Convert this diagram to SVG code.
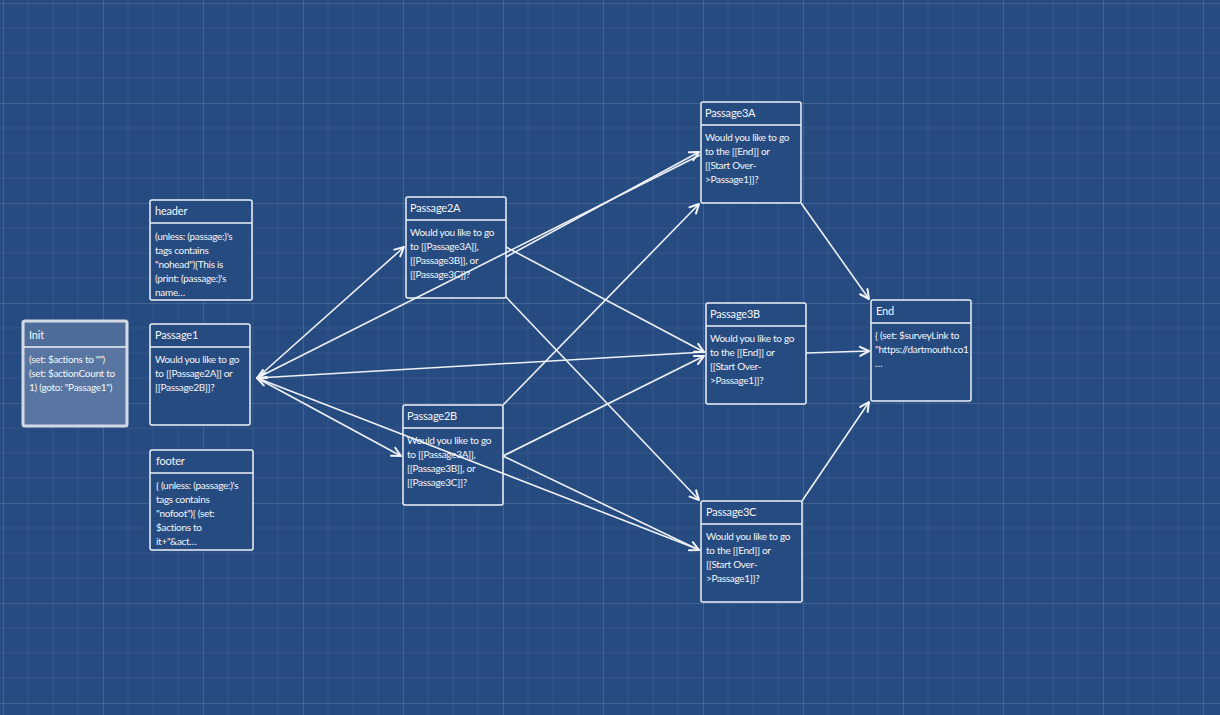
<svg xmlns="http://www.w3.org/2000/svg" width="1220" height="715" viewBox="0 0 1220 715">
<defs>
<pattern id="grid" patternUnits="userSpaceOnUse" x="3" y="3" width="100" height="100">
<path d="M25 0V100M50 0V100M75 0V100M0 25H100M0 50H100M0 75H100" stroke="#ffffff" stroke-opacity="0.06" stroke-width="1" fill="none"/>
<path d="M0.5 0V100M0 0.5H100" stroke="#ffffff" stroke-opacity="0.13" stroke-width="1" fill="none"/>
</pattern>
<marker id="arr" markerUnits="userSpaceOnUse" markerWidth="16" markerHeight="16" refX="0" refY="0" viewBox="-12 -8 16 16" orient="auto">
<path d="M-9 -4.5 L0 0 L-9 4.5" fill="none" stroke="#f2f4f8" stroke-width="2" stroke-linecap="round" stroke-linejoin="round"/>
</marker>
<clipPath id="clipEnd"><rect x="872" y="324" width="98" height="76"/></clipPath>
<style>
.node{fill:#264b80;stroke:#eef1f6;stroke-width:1.5}
.sep{stroke:#eef1f6;stroke-width:1.5}
.t{font-family:Lato,"Liberation Sans",sans-serif;font-size:11px;letter-spacing:-0.2px;fill:#f4f6fa}
.b{font-family:Lato,"Liberation Sans",sans-serif;font-size:10px;letter-spacing:-0.3px;fill:#f4f6fa}
.e{fill:none;stroke:#eef1f6;stroke-width:1.6;marker-end:url(#arr)}
</style>
</defs>
<rect width="1220" height="715" fill="#264b80"/>
<rect width="1220" height="715" fill="url(#grid)"/>

<g id="init">
<rect x="23" y="321" width="104" height="105" rx="2" fill="#5876a1" stroke="#d4dae3" stroke-width="3"/>
<rect x="25" y="323" width="100" height="23" fill="#4e6d99"/>
<line class="sep" x1="24" y1="347" x2="126" y2="347"/>
<text class="t" x="29" y="339">Init</text>
<text class="b" x="29" y="363">(set: $actions to "")</text>
<text class="b" x="29" y="377">(set: $actionCount to</text>
<text class="b" x="29" y="391">1) (goto: "Passage1")</text>
</g>

<g id="header">
<rect class="node" x="150" y="200" width="102" height="100" rx="2"/>
<line class="sep" x1="150" y1="223" x2="252" y2="223"/>
<text class="t" x="155" y="215">header</text>
<text class="b" x="155" y="240">(unless: (passage:)'s</text>
<text class="b" x="155" y="254">tags contains</text>
<text class="b" x="155" y="268">"nohead")[This is</text>
<text class="b" x="155" y="282">(print: (passage:)'s</text>
<text class="b" x="155" y="296">name…</text>
</g>

<g id="passage1">
<rect class="node" x="150" y="324" width="100" height="101" rx="2"/>
<line class="sep" x1="150" y1="347" x2="250" y2="347"/>
<text class="t" x="155" y="339">Passage1</text>
<text class="b" x="155" y="363">Would you like to go</text>
<text class="b" x="155" y="377">to [[Passage2A]] or</text>
<text class="b" x="155" y="391">[[Passage2B]]?</text>
</g>

<g id="footer">
<rect class="node" x="150" y="450" width="103" height="100" rx="2"/>
<line class="sep" x1="150" y1="473" x2="253" y2="473"/>
<text class="t" x="156" y="465">footer</text>
<text class="b" x="156" y="489">{ (unless: (passage:)'s</text>
<text class="b" x="156" y="503">tags contains</text>
<text class="b" x="156" y="517">"nofoot")[ (set:</text>
<text class="b" x="156" y="531">$actions to</text>
<text class="b" x="156" y="545">it+"&amp;act…</text>
</g>

<g id="passage2a">
<rect class="node" x="406" y="197" width="100" height="101" rx="2"/>
<line class="sep" x1="406" y1="220" x2="506" y2="220"/>
<text class="t" x="410" y="212">Passage2A</text>
<text class="b" x="410" y="236">Would you like to go</text>
<text class="b" x="410" y="250">to [[Passage3A]],</text>
<text class="b" x="410" y="264">[[Passage3B]], or</text>
<text class="b" x="410" y="278">[[Passage3C]]?</text>
</g>

<g id="passage2b">
<rect class="node" x="403" y="405" width="100" height="100" rx="2"/>
<line class="sep" x1="403" y1="428" x2="503" y2="428"/>
<text class="t" x="407" y="420">Passage2B</text>
<text class="b" x="407" y="444">Would you like to go</text>
<text class="b" x="407" y="458">to [[Passage3A]],</text>
<text class="b" x="407" y="472">[[Passage3B]], or</text>
<text class="b" x="407" y="486">[[Passage3C]]?</text>
</g>

<g id="passage3a">
<rect class="node" x="701" y="102" width="100" height="101" rx="2"/>
<line class="sep" x1="701" y1="125" x2="801" y2="125"/>
<text class="t" x="705" y="117">Passage3A</text>
<text class="b" x="705" y="141">Would you like to go</text>
<text class="b" x="705" y="155">to the [[End]] or</text>
<text class="b" x="705" y="169">[[Start Over-</text>
<text class="b" x="705" y="183">&gt;Passage1]]?</text>
</g>

<g id="passage3b">
<rect class="node" x="706" y="303" width="100" height="101" rx="2"/>
<line class="sep" x1="706" y1="326" x2="806" y2="326"/>
<text class="t" x="710" y="318">Passage3B</text>
<text class="b" x="710" y="342">Would you like to go</text>
<text class="b" x="710" y="356">to the [[End]] or</text>
<text class="b" x="710" y="370">[[Start Over-</text>
<text class="b" x="710" y="384">&gt;Passage1]]?</text>
</g>

<g id="passage3c">
<rect class="node" x="701" y="501" width="101" height="101" rx="2"/>
<line class="sep" x1="701" y1="524" x2="802" y2="524"/>
<text class="t" x="706" y="516">Passage3C</text>
<text class="b" x="706" y="540">Would you like to go</text>
<text class="b" x="706" y="554">to the [[End]] or</text>
<text class="b" x="706" y="568">[[Start Over-</text>
<text class="b" x="706" y="582">&gt;Passage1]]?</text>
</g>

<g id="end">
<rect class="node" x="871" y="300" width="100" height="101" rx="2"/>
<line class="sep" x1="871" y1="323" x2="971" y2="323"/>
<text class="t" x="876" y="315">End</text>
<g clip-path="url(#clipEnd)">
<text class="b" x="875" y="339">{ (set: $surveyLink to</text>
<text class="b" x="875" y="353">"https://dartmouth.co1</text>
<text class="b" x="875" y="367">…</text>
</g>
</g>

<g id="connectors">
<line class="e" x1="257" y1="378" x2="404" y2="247"/>
<line class="e" x1="257" y1="378" x2="401" y2="456"/>
<line class="e" x1="700" y1="155" x2="257" y2="378"/>
<line class="e" x1="705" y1="352" x2="257" y2="378"/>
<line class="e" x1="700" y1="550" x2="257" y2="378"/>
<line class="e" x1="506" y1="257" x2="699" y2="152"/>
<line class="e" x1="506" y1="247" x2="704" y2="352"/>
<line class="e" x1="506" y1="297" x2="699" y2="500"/>
<line class="e" x1="503" y1="405" x2="699" y2="204"/>
<line class="e" x1="503" y1="456" x2="704" y2="356"/>
<line class="e" x1="503" y1="456" x2="699" y2="550"/>
<line class="e" x1="801" y1="203" x2="869" y2="299"/>
<line class="e" x1="806" y1="353" x2="869" y2="351"/>
<line class="e" x1="802" y1="501" x2="869" y2="402"/>
</g>
</svg>
